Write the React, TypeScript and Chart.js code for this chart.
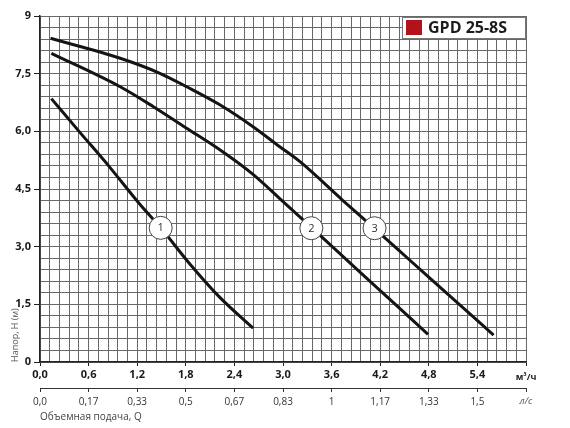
import { useEffect, useRef } from 'react';
import Chart from 'chart.js/auto';

// flow axis (m³/h) and its twin in l/s
const flowMajor = [0, 0.6, 1.2, 1.8, 2.4, 3.0, 3.6, 4.2, 4.8, 5.4, 6.0];
const flowTickLabels = ['0,0', '0,6', '1,2', '1,8', '2,4', '3,0', '3,6', '4,2', '4,8', '5,4', 'м³/ч'];
const litreTickLabels = ['0,0', '0,17', '0,33', '0,5', '0,67', '0,83', '1', '1,17', '1,33', '1,5', 'л/с'];

// head axis (m)
const headMajor = [0, 1.5, 3, 4.5, 6, 7.5, 9];
const headTickLabels = ['0', '1,5', '3,0', '4,5', '6,0', '7,5', '9'];

// pump curves, speed 1..3
const curve1Flow = [0.14, 0.49, 0.86, 1.23, 1.49, 1.85, 2.22, 2.63];
const curve1Head = [6.85, 5.98, 5.07, 4.11, 3.49, 2.55, 1.68, 0.88];
const curve2Flow = [0.14, 0.99, 1.4, 1.81, 2.22, 2.63, 2.96, 3.35, 3.95, 4.36, 4.79];
const curve2Head = [8.03, 7.16, 6.64, 6.08, 5.52, 4.88, 4.25, 3.5, 2.34, 1.55, 0.72];
const curve3Flow = [0.13, 0.99, 1.48, 1.81, 2.22, 2.63, 2.96, 3.21, 3.74, 4.13, 4.57, 5.19, 5.6];
const curve3Head = [8.42, 7.9, 7.51, 7.16, 6.69, 6.12, 5.6, 5.21, 4.2, 3.47, 2.64, 1.47, 0.7];

// numbered circles on the curves
const markerFlow = [1.49, 3.35, 4.13];
const markerHead = [3.49, 3.48, 3.48];
const markerLabels = ['1', '2', '3'];

const modelName = 'GPD 25-8S';
const flowTitle = 'Объемная подача, Q';
const headTitle = 'Напор, H (м)';

const FONT = '"Open Sans", "DejaVu Sans", sans-serif';

const majorIndex = (list: number[], v: number) => list.findIndex((m) => Math.abs(m - v) < 1e-6);

const toPoints = (xs: number[], ys: number[]) => xs.map((x, i) => ({ x, y: ys[i] }));

const curve = (flow: number[], head: number[]) => ({
  data: toPoints(flow, head),
  showLine: true,
  borderColor: '#141414',
  borderWidth: 3,
  pointRadius: 0,
  cubicInterpolationMode: 'monotone' as const,
  order: 2,
});

const overlayPlugin = {
  id: 'overlay',
  afterDatasetsDraw(chart: any) {
    const { ctx, chartArea } = chart;
    const meta = chart.getDatasetMeta(3);
    ctx.save();
    ctx.font = `11px ${FONT}`;
    ctx.fillStyle = '#333';
    ctx.textAlign = 'center';
    ctx.textBaseline = 'middle';
    meta.data.forEach((pt: any, i: number) => ctx.fillText(markerLabels[i], pt.x, pt.y + 0.5));

    // model box in the top right corner
    const w = 124;
    const h = 21;
    const x = chartArea.right - w;
    const y = chartArea.top + 1;
    ctx.fillStyle = '#fff';
    ctx.fillRect(x, y, w, h);
    ctx.strokeStyle = '#777';
    ctx.lineWidth = 1;
    ctx.strokeRect(x + 0.5, y + 0.5, w - 1, h);
    ctx.fillStyle = '#b3121c';
    ctx.fillRect(x + 4, y + 3, 16, 15);
    ctx.fillStyle = '#1c1c1c';
    ctx.font = `bold 16px ${FONT}`;
    ctx.textAlign = 'left';
    ctx.fillText(modelName, x + 26, y + h / 2 + 1);
    ctx.restore();
  },
};

const PumpChart = () => {
  const canvasRef = useRef<HTMLCanvasElement>(null);
  const chartRef = useRef<Chart | null>(null);

  useEffect(() => {
    const context = canvasRef.current?.getContext('2d');
    if (!context) return;

    chartRef.current?.destroy();
    chartRef.current = new Chart(context, {
      type: 'scatter',
      data: {
        datasets: [
          curve(curve1Flow, curve1Head),
          curve(curve2Flow, curve2Head),
          curve(curve3Flow, curve3Head),
          {
            data: toPoints(markerFlow, markerHead),
            pointRadius: 11.5,
            pointBackgroundColor: '#fff',
            pointBorderColor: '#444',
            pointBorderWidth: 1,
            order: 1,
          },
        ] as any,
      },
      options: {
        animation: false,
        responsive: true,
        maintainAspectRatio: false,
        layout: { padding: { top: 16, right: 44, bottom: 0, left: 0 } },
        plugins: { legend: { display: false }, tooltip: { enabled: false } },
        scales: {
          x: {
            type: 'linear',
            position: 'bottom',
            weight: 0,
            min: 0,
            max: 6,
            ticks: {
              stepSize: 0.12,
              autoSkip: false,
              maxRotation: 0,
              padding: 2,
              color: '#1a1a1a',
              font: (c: any) =>
                c.index === 50
                  ? { family: FONT, size: 9, weight: 'bold', lineHeight: 2.2 }
                  : { family: FONT, size: 11, weight: 'bold' },
              callback: (v: any) => {
                const i = majorIndex(flowMajor, Number(v));
                return i >= 0 ? flowTickLabels[i] : '';
              },
            },
            grid: {
              color: '#686868',
              lineWidth: 1,
              tickLength: 4,
              tickColor: (c: any) => (majorIndex(flowMajor, c.tick?.value) >= 0 ? '#222' : 'rgba(0,0,0,0)'),
            },
            border: { display: true, color: '#222', width: 1.5 },
            afterFit: (s: any) => {
              s.height = 26;
            },
          },
          x2: {
            type: 'linear',
            position: 'bottom',
            weight: 1,
            min: 0,
            max: 6,
            ticks: {
              stepSize: 0.6,
              autoSkip: false,
              maxRotation: 0,
              padding: 4,
              color: (c: any) => (c.index === 10 ? '#555' : '#333'),
              font: (c: any) =>
                c.index === 10
                  ? { family: FONT, size: 9.5, style: 'italic' }
                  : { family: FONT, size: 10 },
              callback: (v: any) => {
                const i = majorIndex(flowMajor, Number(v));
                return i >= 0 ? litreTickLabels[i] : '';
              },
            },
            grid: { drawOnChartArea: false, tickLength: 4, tickColor: '#333' },
            border: { display: true, color: '#333', width: 1 },
            title: {
              display: true,
              text: flowTitle,
              align: 'start',
              color: '#444',
              font: { family: FONT, size: 10 },
              padding: { top: 0, bottom: 5 },
            },
            afterFit: (s: any) => {
              s.height = 40;
            },
          },
          y: {
            type: 'linear',
            position: 'left',
            min: 0,
            max: 9,
            ticks: {
              stepSize: 0.3,
              autoSkip: false,
              padding: 3,
              color: '#1a1a1a',
              font: { family: FONT, size: 11, weight: 'bold' },
              callback: (v: any) => {
                const i = majorIndex(headMajor, Number(v));
                return i >= 0 ? headTickLabels[i] : '';
              },
            },
            grid: {
              color: '#686868',
              lineWidth: 1,
              tickLength: 6,
              tickColor: (c: any) => (majorIndex(headMajor, c.tick?.value) >= 0 ? '#222' : 'rgba(0,0,0,0)'),
            },
            border: { display: true, color: '#222', width: 1.5 },
            title: {
              display: true,
              text: headTitle,
              align: 'start',
              color: '#555',
              font: { family: FONT, size: 9 },
              padding: { top: 10, bottom: 0 },
            },
            afterFit: (s: any) => {
              s.width = 40;
            },
          },
        },
      } as any,
      plugins: [overlayPlugin],
    });

    return () => {
      chartRef.current?.destroy();
      chartRef.current = null;
    };
  }, []);

  return (
    <div style={{ position: 'absolute', left: 0, top: 0, width: 570, height: 428, background: '#fff' }}>
      <canvas ref={canvasRef} />
    </div>
  );
};

export default function App() {
  return <PumpChart />;
}
